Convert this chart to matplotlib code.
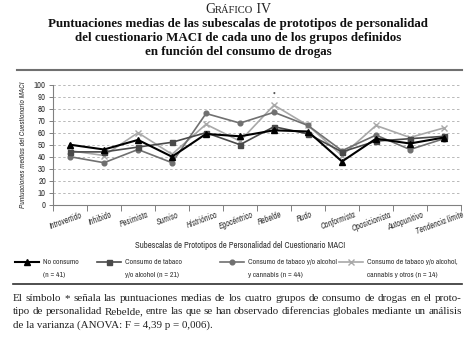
import matplotlib
matplotlib.use("Agg")
import matplotlib.pyplot as plt
from matplotlib.lines import Line2D
from matplotlib.transforms import ScaledTranslation

# Subscales of the MACI personality prototypes
categories = ["Introvertido", "Inhibido", "Pesimista", "Sumiso", "Histriónico",
              "Egocéntrico", "Rebelde", "Rudo", "Conformista", "Oposicionista",
              "Autopunitivo", "Tendencia límite"]

# Mean scores per drug-use group
no_consumo = [50, 46, 54, 40, 59, 57, 62, 61, 36, 55, 51, 56]
tabaco_alcohol = [44, 44, 48, 52, 60, 50, 65, 59, 44, 53, 55, 57]
tabaco_alcohol_cannabis = [40, 35, 46, 35, 76, 68, 77, 66, 45, 58, 46, 55]
tabaco_alcohol_cannabis_otros = [45, 41, 60, 42, 67, 53, 83, 66, 41, 66, 56, 64]

y_ticks = list(range(0, 101, 10))

series_labels = [("No consumo", "(n = 41)"),
                 ("Consumo de tabaco", "y/o alcohol (n = 21)"),
                 ("Consumo de tabaco y/o alcohol", "y cannabis (n = 44)"),
                 ("Consumo de tabaco y/o alcohol,", "cannabis y otros (n = 14)")]

SANS = ["Archivo Narrow", "Liberation Sans Narrow", "Liberation Sans", "DejaVu Sans"]
SERIF = ["Liberation Serif", "DejaVu Serif"]
INK = "#333333"

W, H = 472, 339
fig = plt.figure(figsize=(W / 100, H / 100), dpi=100)
renderer = fig.canvas.get_renderer()


def fx(px):
    return px / W


def fy(py):
    return 1 - py / H


ax = fig.add_axes([fx(53), fy(204.7), fx(461) - fx(53), fy(84.7) - fy(204.7)])

x = list(range(len(categories)))
styles = [
    dict(color="#000000", marker="^", ms=4.4, lw=1.5, zorder=6),
    dict(color="#4a4a4a", marker="s", ms=3.6, lw=1.2, zorder=5),
    dict(color="#707070", marker="o", ms=3.4, lw=1.2, zorder=4),
    dict(color="#a8a8a8", marker="x", ms=5.0, lw=1.2, mew=1.0, zorder=3),
]
lines = []
for values, st in zip([no_consumo, tabaco_alcohol, tabaco_alcohol_cannabis,
                       tabaco_alcohol_cannabis_otros], styles):
    ln, = ax.plot(x, values, **st)
    lines.append(ln)

# significance mark above Rebelde
ax.text(categories.index("Rebelde"), 87.5, "*", ha="center", va="bottom",
        fontsize=6, color="#222222", family=SANS)

ax.set_xlim(-0.5, len(categories) - 0.5)
ax.set_ylim(0, 100)
ax.set_yticks(y_ticks)
ax.yaxis.grid(True, linestyle=(0, (2.5, 2.5)), color="#b8b8b8", lw=0.7)
ax.set_axisbelow(True)

for s in ("top", "right"):
    ax.spines[s].set_visible(False)
for s in ("left", "bottom"):
    ax.spines[s].set_color("#808080")
    ax.spines[s].set_linewidth(0.8)

ax.tick_params(axis="y", length=3, width=0.7, color="#808080", pad=2,
               labelsize=6.3, labelcolor=INK)
for t in ax.get_yticklabels():
    t.set_family(SANS)

# tick marks between categories, labels at category centres
ax.set_xticks([i - 0.5 for i in range(len(categories) + 1)])
ax.set_xticklabels([])
ax.tick_params(axis="x", which="major", length=4, width=0.7, color="#808080")
ax.set_xticks(x, minor=True)
ax.set_xticklabels(categories, minor=True, rotation=20, ha="center",
                   fontsize=5.9, style="italic", family=SANS, color=INK)
ax.tick_params(axis="x", which="minor", length=0, pad=4)
shift = ScaledTranslation(-4 / 100, 0, fig.dpi_scale_trans)
for lbl in ax.get_xticklabels(minor=True):
    lbl.set_transform(lbl.get_transform() + shift)

ax.set_ylabel("Puntuaciones medias del Cuestionario MACI", fontsize=5.6,
              style="italic", family=SANS, color=INK, labelpad=6)

fig.text(fx(240), fy(246), "Subescalas de Prototipos de Personalidad del Cuestionario MACI",
         ha="center", va="center", fontsize=6.3, family=SANS, color=INK)

# legend, one entry per group, handle on the first text line
LEG_SIZE = 5.6
legend_x = [15, 97, 220, 339]
for ln, (l1, l2), lx in zip(lines, series_labels, legend_x):
    leg = fig.legend(handles=[ln], labels=[l1], loc="center left",
                     bbox_to_anchor=(fx(lx), fy(262)), frameon=False,
                     handlelength=3.1, handletextpad=0.45, borderpad=0,
                     borderaxespad=0, prop=dict(family=SANS, size=LEG_SIZE))
    fig.canvas.draw()
    txt = leg.get_texts()[0]
    txt.set_color(INK)
    tx = txt.get_window_extent(renderer).x0
    # second line of the label, aligned with the first
    fig.text(tx / W, fy(274.5), l2, ha="left", va="center", fontsize=LEG_SIZE,
             family=SANS, color=INK)

# header: small-caps "Gráfico IV"
base = fy(13)
g = fig.text(fx(205), base, "G", ha="left", va="baseline", fontsize=10,
             family=SERIF, color="#222222")
fig.canvas.draw()
t2 = fig.text(g.get_window_extent(renderer).x1 / W, base, "RÁFICO", ha="left",
              va="baseline", fontsize=7.6, family=SERIF, color="#222222")
fig.canvas.draw()
fig.text(t2.get_window_extent(renderer).x1 / W, base, " IV", ha="left",
         va="baseline", fontsize=10, family=SERIF, color="#222222")

title_lines = ["Puntuaciones medias de las subescalas de prototipos de personalidad",
               "del cuestionario MACI de cada uno de los grupos definidos",
               "en función del consumo de drogas"]
for i, tl in enumerate(title_lines):
    fig.text(fx(238), fy(27 + 14 * i), tl, ha="center", va="baseline",
             fontsize=9.4, weight="bold", family=SERIF, color="#111111")

# rules above and below the figure body
fig.add_artist(Line2D([fx(17), fx(462)], [fy(69.5), fy(69.5)], color="#707070", lw=1.5))
fig.add_artist(Line2D([fx(13), fx(462)], [fy(283.5), fy(283.5)], color="#303030", lw=1.2))


def justified(text, left, right, y, **kw):
    words = text.split(" ")
    arts = [fig.text(fx(left), fy(y), w, ha="left", va="baseline", **kw) for w in words]
    fig.canvas.draw()
    widths = [a.get_window_extent(renderer).width for a in arts]
    gap = (right - left - sum(widths)) / (len(words) - 1)
    pos = left
    for a, w in zip(arts, widths):
        a.set_x(fx(pos))
        pos += w + gap


note = ["El símbolo * señala las puntuaciones medias de los cuatro grupos de consumo de drogas en el proto-",
        "tipo de personalidad Rebelde, entre las que se han observado diferencias globales mediante un análisis",
        "de la varianza (ANOVA: F = 4,39 p = 0,006)."]
note_kw = dict(fontsize=7.9, family=SERIF, color="#222222")
justified(note[0], 13, 462, 301, **note_kw)
justified(note[1], 13, 462, 314.5, **note_kw)
fig.text(fx(13), fy(328), note[2], ha="left", va="baseline", **note_kw)

fig.savefig("out.png", dpi=100)
